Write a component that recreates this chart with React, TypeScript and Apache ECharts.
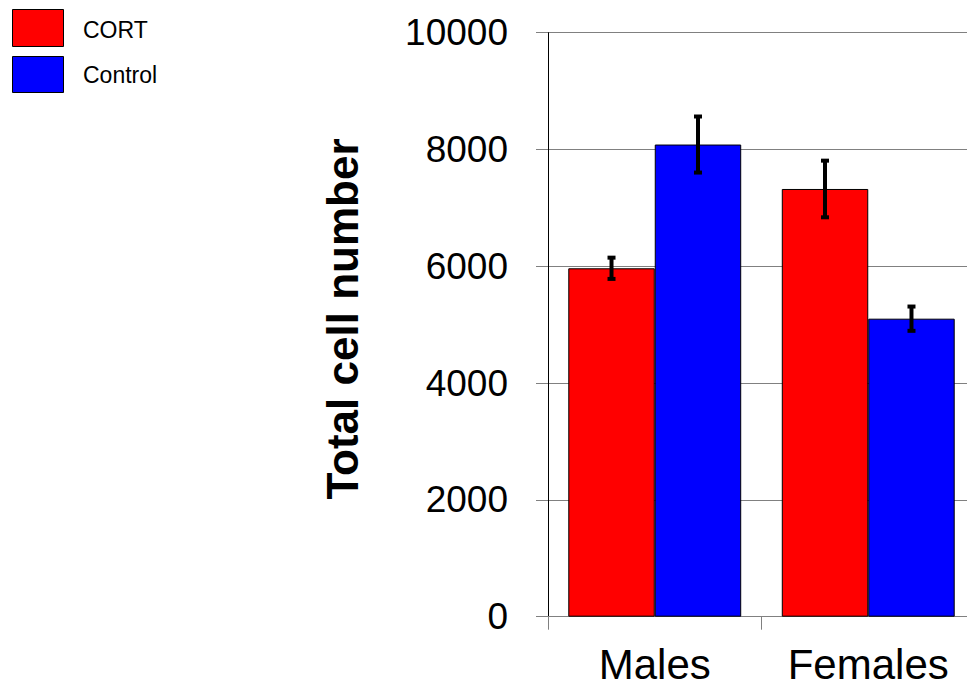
import React, { useEffect, useRef } from "react";
import * as echarts from "echarts";

const categories = ["Males", "Females"];
const cortValues = [5966, 7324];
const cortErrors = [182, 485];
const controlValues = [8085, 5103];
const controlErrors = [480, 208];
const yTicks = [0, 2000, 4000, 6000, 8000, 10000];
const legendLabels = ["CORT", "Control"];
const colors = ["#ff0000", "#0000ff"];

const BAR_GAP = 0.19;

function errorSeries(values: number[], errs: number[], side: number) {
  return {
    type: "custom",
    z: 10,
    data: values.map((v, i) => [i, v, errs[i]]),
    renderItem: (params: any, api: any) => {
      const idx = api.value(0);
      const val = api.value(1);
      const e = api.value(2);
      const band = api.size([1, 0])[0];
      const barW = (band * (1 - BAR_GAP)) / 2;
      const c = api.coord([idx, val]);
      const x = c[0] + (side * barW) / 2;
      const hi = api.coord([idx, val + e])[1];
      const lo = api.coord([idx, val - e])[1];
      return {
        type: "group",
        children: [
          { type: "line", shape: { x1: x, y1: hi, x2: x, y2: lo }, style: { stroke: "#000", lineWidth: 4 } },
          { type: "rect", shape: { x: x - 4, y: hi - 2, width: 8, height: 4 }, style: { fill: "#000" } },
          { type: "rect", shape: { x: x - 4, y: lo - 2, width: 8, height: 4 }, style: { fill: "#000" } },
        ],
      };
    },
  };
}

export default function App() {
  const ref = useRef<HTMLDivElement>(null);
  useEffect(() => {
    if (!ref.current) return;
    const chart = echarts.init(ref.current, null, { renderer: "svg" });
    const font = "Liberation Sans, Arial, sans-serif";
    chart.setOption({
      animation: false,
      backgroundColor: "#ffffff",
      textStyle: { fontFamily: font },
      grid: { left: 548, right: 1, top: 32.7, bottom: 77.3, containLabel: false },
      xAxis: {
        type: "category",
        data: categories,
        axisLine: { show: true, lineStyle: { color: "#808080", width: 1 } },
        axisTick: { show: true, length: 13, lineStyle: { color: "#808080" } },
        axisLabel: { fontSize: 42, color: "#000", margin: 27, fontFamily: font },
      },
      yAxis: {
        type: "value",
        min: 0,
        max: 10000,
        interval: 2000,
        axisLine: { show: true, lineStyle: { color: "#000", width: 1 } },
        axisTick: { show: true, length: 12, lineStyle: { color: "#808080" } },
        splitLine: { show: true, lineStyle: { color: "#808080", width: 1 } },
        axisLabel: {
          fontSize: 37,
          color: "#000",
          margin: 40,
          fontFamily: font,
          formatter: (v: number) => (yTicks.includes(v) ? String(v) : ""),
        },
      },
      series: [
        {
          type: "bar",
          name: legendLabels[0],
          data: cortValues,
          barGap: "0%",
          barCategoryGap: BAR_GAP * 100 + "%",
          itemStyle: { color: colors[0], borderColor: "#000", borderWidth: 1 },
        },
        {
          type: "bar",
          name: legendLabels[1],
          data: controlValues,
          barGap: "0%",
          barCategoryGap: BAR_GAP * 100 + "%",
          itemStyle: { color: colors[1], borderColor: "#000", borderWidth: 1 },
        },
        errorSeries(cortValues, cortErrors, -1),
        errorSeries(controlValues, controlErrors, 1),
      ],
      graphic: [
        { type: "rect", left: 12, top: 9, shape: { width: 51, height: 37 }, style: { fill: colors[0], stroke: "#000", lineWidth: 1 } },
        { type: "rect", left: 12, top: 56, shape: { width: 51, height: 36 }, style: { fill: colors[1], stroke: "#000", lineWidth: 1 } },
        { type: "text", left: 83, top: 18, style: { text: legendLabels[0], fontSize: 23, fill: "#000", fontFamily: font } },
        { type: "text", left: 83, top: 63, style: { text: legendLabels[1], fontSize: 23, fill: "#000", fontFamily: font } },
        {
          type: "text",
          x: 342,
          y: 319,
          rotation: Math.PI / 2,
          style: {
            text: "Total cell number",
            fontSize: 44,
            fontWeight: "bold",
            fill: "#000",
            fontFamily: font,
            align: "center",
            verticalAlign: "middle",
          },
        },
      ],
    });
    return () => chart.dispose();
  }, []);
  return (
    <div style={{ position: "absolute", left: 0, top: 0, width: 967, height: 694, overflow: "hidden" }}>
      <div ref={ref} style={{ position: "absolute", left: 0, top: 0, width: 976, height: 694 }} />
    </div>
  );
}
